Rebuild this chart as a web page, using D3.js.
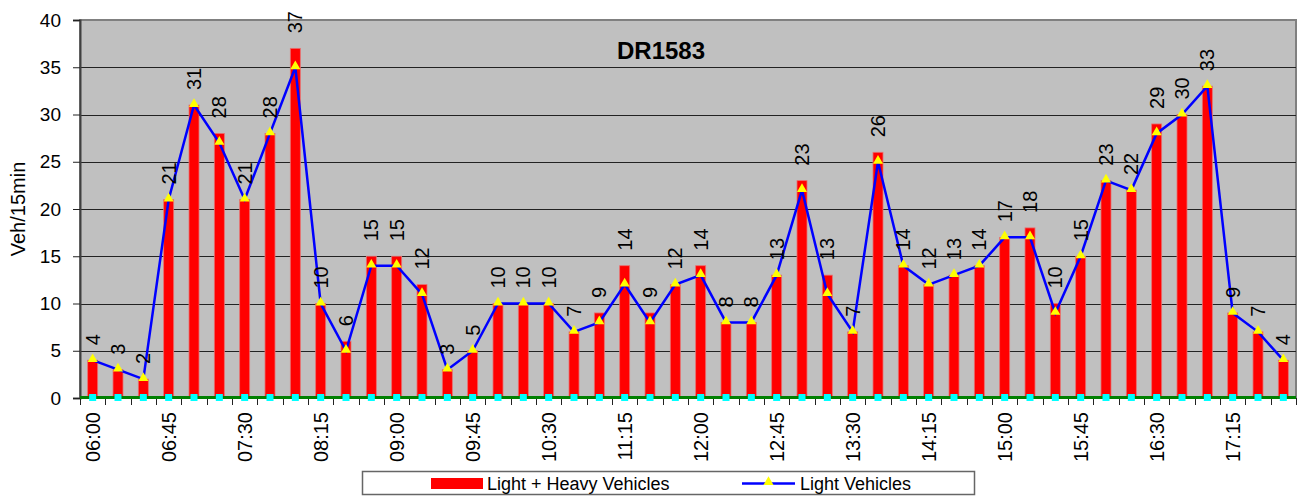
<!DOCTYPE html>
<html>
<head>
<meta charset="utf-8">
<script src="https://cdn.jsdelivr.net/npm/d3@7"></script>
<style>
body { margin: 0; background: #fff; }
text { font-family: Arial, "Liberation Sans", sans-serif; }
</style>
</head>
<body>
<svg class="chart" width="1306" height="496"></svg>
<script>
var times = ["06:00","06:15","06:30","06:45","07:00","07:15","07:30","07:45","08:00","08:15","08:30","08:45",
	"09:00","09:15","09:30","09:45","10:00","10:15","10:30","10:45","11:00","11:15","11:30","11:45",
	"12:00","12:15","12:30","12:45","13:00","13:15","13:30","13:45","14:00","14:15","14:30","14:45",
	"15:00","15:15","15:30","15:45","16:00","16:15","16:30","16:45","17:00","17:15","17:30","17:45"];

var totalVehicles = [4,3,2,21,31,28,21,28,37,10,6,15,15,12,3,5,10,10,10,7,9,14,9,12,
	14,8,8,13,23,13,7,26,14,12,13,14,17,18,10,15,23,22,29,30,33,9,7,4];

var lightVehicles = [4,3,2,21,31,27,21,28,35,10,5,14,14,11,3,5,10,10,10,7,8,12,8,12,
	13,8,8,13,22,11,7,25,14,12,13,14,17,17,9,15,23,22,28,30,33,9,7,4];

var heavyVehicles = [0,0,0,0,0,0,0,0,0,0,0,0,0,0,0,0,0,0,0,0,0,0,0,0,
	0,0,0,0,0,0,0,0,0,0,0,0,0,0,0,0,0,0,0,0,0,0,0,0];

var yTicks = [0,5,10,15,20,25,30,35,40];

var margin = {top: 20, left: 80, right: 10, bottom: 98};
var width = 1306 - margin.left - margin.right,
	height = 496 - margin.top - margin.bottom,
	barWidth = 10;

var chart = d3.select(".chart");

var x = d3.scaleBand()
	.domain(times)
	.range([margin.left, margin.left + width]);

var y = d3.scaleLinear()
	.domain([0, 40])
	.range([margin.top + height, margin.top]);

function cx(i) { return x(times[i]) + x.bandwidth() / 2; }

// plot area
chart.append("rect")
	.attr("x", margin.left)
	.attr("y", y(40))
	.attr("width", width)
	.attr("height", y(0) - y(40))
	.style("fill", "#c0c0c0")
	.style("stroke", "#808080")
	.style("stroke-width", 2);

chart.selectAll(".grid")
	.data(yTicks.filter(function(d) { return d > 0 && d < 40; }))
	.enter().append("line")
	.attr("class", "grid")
	.attr("x1", margin.left)
	.attr("x2", margin.left + width)
	.attr("y1", function(d) { return Math.round(y(d)) + 0.5; })
	.attr("y2", function(d) { return Math.round(y(d)) + 0.5; })
	.style("stroke", "#222")
	.style("stroke-width", 1);

// y axis
var yAxis = chart.append("g")
	.attr("transform", "translate(" + margin.left + ",0)")
	.call(d3.axisLeft(y).tickValues(yTicks).tickSize(7).tickPadding(12));
yAxis.select(".domain").style("stroke", "#404040").style("stroke-width", 2);
yAxis.selectAll(".tick line").style("stroke", "#222");
yAxis.selectAll("text").style("font-size", "19px").style("fill", "#000");

// x axis ticks at category boundaries
chart.selectAll(".xtick")
	.data(times.concat(["end"]))
	.enter().append("line")
	.attr("class", "xtick")
	.attr("x1", function(d, i) { return Math.round(margin.left + i * x.step()) + 0.5; })
	.attr("x2", function(d, i) { return Math.round(margin.left + i * x.step()) + 0.5; })
	.attr("y1", y(0))
	.attr("y2", y(0) + 7)
	.style("stroke", "#222");

chart.selectAll(".xlabel")
	.data(times.filter(function(d, i) { return i % 3 == 0; }))
	.enter().append("text")
	.attr("class", "xlabel")
	.attr("transform", function(d) { return "translate(" + (x(d) + x.bandwidth() / 2 + 7) + "," + (y(0) + 14) + ") rotate(-90)"; })
	.style("text-anchor", "end")
	.style("font-size", "20px")
	.text(function(d) { return d; });

// bars
chart.selectAll(".bar")
	.data(totalVehicles)
	.enter().append("rect")
	.attr("class", "bar")
	.attr("x", function(d, i) { return cx(i) - barWidth / 2; })
	.attr("y", function(d) { return y(d); })
	.attr("width", barWidth)
	.attr("height", function(d) { return y(0) - y(d); })
	.style("fill", "#ff0000")
	.style("stroke", "#e87070")
	.style("stroke-width", 0.8);

// heavy vehicles series (zero)
var line = d3.line()
	.x(function(d, i) { return cx(i); })
	.y(function(d) { return y(d); });

chart.append("path")
	.datum(heavyVehicles)
	.attr("d", d3.line().x(function(d, i) { return i == 0 ? margin.left : (i == heavyVehicles.length - 1 ? margin.left + width : cx(i)); }).y(function(d) { return y(d) - 0.5; }))
	.style("fill", "none")
	.style("stroke", "#008000")
	.style("stroke-width", 3);

chart.selectAll(".heavy")
	.data(heavyVehicles)
	.enter().append("rect")
	.attr("class", "heavy")
	.attr("x", function(d, i) { return cx(i) - 3.5; })
	.attr("y", function(d) { return y(d) - 4; })
	.attr("width", 7)
	.attr("height", 7)
	.style("fill", "#00ffff");

// light vehicles line
chart.append("path")
	.datum(lightVehicles)
	.attr("d", line)
	.style("fill", "none")
	.style("stroke", "#0000ff")
	.style("stroke-width", 2.5);

var tri = d3.symbol().type(d3.symbolTriangle).size(44);

chart.selectAll(".light")
	.data(lightVehicles)
	.enter().append("path")
	.attr("class", "light")
	.attr("d", tri)
	.attr("transform", function(d, i) { return "translate(" + cx(i) + "," + (y(d) - 1) + ")"; })
	.style("fill", "#ffff00");

// data labels
chart.selectAll(".vlabel")
	.data(totalVehicles)
	.enter().append("text")
	.attr("class", "vlabel")
	.attr("transform", function(d, i) { return "translate(" + (cx(i) + 7) + "," + (y(d) - 15) + ") rotate(-90)"; })
	.style("text-anchor", "start")
	.style("font-size", "20px")
	.text(function(d) { return d; });

// title
chart.append("text")
	.attr("x", 661)
	.attr("y", 59)
	.style("text-anchor", "middle")
	.style("font-size", "24px")
	.style("font-weight", "bold")
	.text("DR1583");

// y axis title
chart.append("text")
	.attr("transform", "translate(25," + (margin.top + height / 2) + ") rotate(-90)")
	.style("text-anchor", "middle")
	.style("font-size", "20px")
	.text("Veh/15min");

// legend
var legend = chart.append("g");
legend.append("rect")
	.attr("x", 362.5)
	.attr("y", 471.5)
	.attr("width", 612)
	.attr("height", 23)
	.style("fill", "#fff")
	.style("stroke", "#666")
	.style("stroke-width", 1.5);
legend.append("rect")
	.attr("x", 431)
	.attr("y", 478)
	.attr("width", 52)
	.attr("height", 11)
	.style("fill", "#ff0000");
legend.append("text")
	.attr("x", 487)
	.attr("y", 490)
	.style("font-size", "18px")
	.text("Light + Heavy Vehicles");
legend.append("line")
	.attr("x1", 742)
	.attr("x2", 795)
	.attr("y1", 483.5)
	.attr("y2", 483.5)
	.style("stroke", "#0000ff")
	.style("stroke-width", 2.5);
legend.append("path")
	.attr("d", tri)
	.attr("transform", "translate(768.5,482)")
	.style("fill", "#ffff00");
legend.append("text")
	.attr("x", 800)
	.attr("y", 490)
	.style("font-size", "18px")
	.text("Light Vehicles");
</script>
</body>
</html>
